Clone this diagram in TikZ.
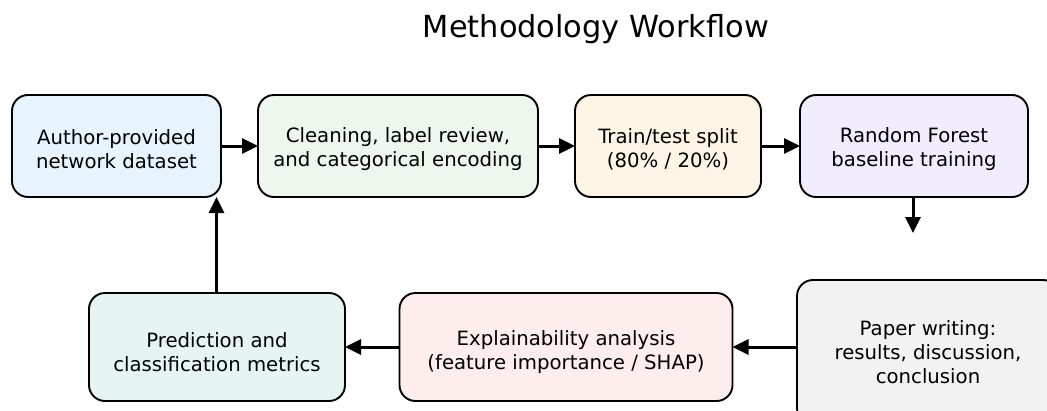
\documentclass[tikz,border=0pt]{standalone}
\usepackage{fontspec}
\setmainfont{DejaVu Sans}
\usetikzlibrary{arrows.meta}
\definecolor{cA}{HTML}{E8F4FD}
\definecolor{cB}{HTML}{EDF7EE}
\definecolor{cC}{HTML}{FEF5E7}
\definecolor{cD}{HTML}{F2EDFD}
\definecolor{cE}{HTML}{E6F5F4}
\definecolor{cF}{HTML}{FDEDED}
\definecolor{cG}{HTML}{F2F2F2}
\newcommand\mystrut[1]{\rule{0pt}{#1}}
\tikzset{
  stepbox/.style={draw=black, line width=1.9pt, rounded corners=16pt, align=center,
    font=\fontsize{19.7}{24}\selectfont, inner sep=0pt, outer sep=0pt},
  flow/.style={line width=3pt, -{Triangle[length=16pt,width=15pt]}}
}
\begin{document}
\begin{tikzpicture}[x=1pt,y=-1pt]
\useasboundingbox (0,0) rectangle (1047,410);
\node[font=\fontsize{30.4}{36}\selectfont, anchor=base] (title) at (596,37) {Methodology Workflow};
\node[stepbox, fill=cA, minimum width=209pt, minimum height=102pt] (b1) at (116.5,146) {\mystrut{21pt}Author-provided\\network dataset};
\node[stepbox, fill=cB, minimum width=280pt, minimum height=102pt] (b2) at (398,146) {\mystrut{21pt}Cleaning, label review,\\and categorical encoding};
\node[stepbox, fill=cC, minimum width=186pt, minimum height=102pt] (b3) at (668,146) {\mystrut{21pt}Train/test split\\(80\% / 20\%)};
\node[stepbox, fill=cD, minimum width=228pt, minimum height=102pt] (b4) at (914,146) {\mystrut{21pt}Random Forest\\baseline training};
\node[stepbox, fill=cE, minimum width=256pt, minimum height=108pt] (b5) at (217,347) {\mystrut{25pt}Prediction and\\classification metrics};
\node[stepbox, fill=cF, minimum width=333pt, minimum height=108pt] (b6) at (566,347) {\mystrut{25pt}Explainability analysis\\(feature importance / SHAP)};
\node[stepbox, fill=cG, minimum width=262pt, minimum height=144pt] (b7) at (928,352) {Paper writing:\\results, discussion,\\conclusion};
\coordinate (e4) at (913,233);
\draw[flow] (b1.east) -- (b2.west);
\draw[flow] (b2.east) -- (b3.west);
\draw[flow] (b3.east) -- (b4.west);
\draw[flow] (b4.south -| e4) -- (e4);
\draw[flow] (b7.west |- b6.east) -- (b6.east);
\draw[flow] (b6.west) -- (b5.east);
\draw[flow] (b5.north -| 216.5,0) -- (b1.south -| 216.5,0);
\end{tikzpicture}
\end{document}
